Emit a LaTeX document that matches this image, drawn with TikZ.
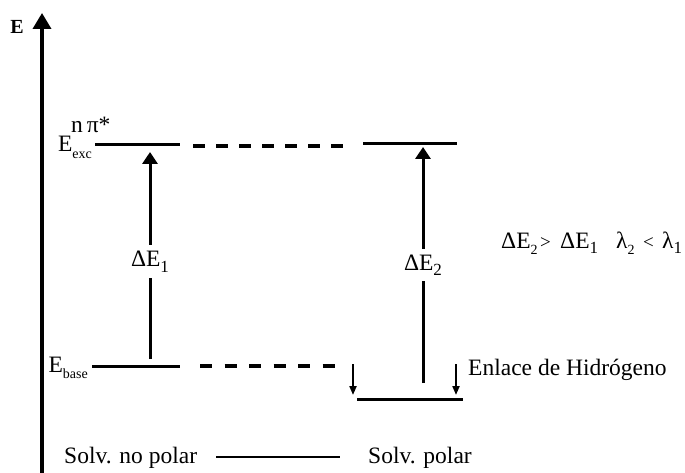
\documentclass[tikz,border=0pt]{standalone}
\usepackage{fontspec}
\setmainfont{Liberation Serif}
\usetikzlibrary{arrows.meta}
\newcommand\lsub[1]{\raisebox{-0.28em}{\fontsize{14}{14}\selectfont #1}}
\newcommand\nsub[1]{\raisebox{-0.22em}{\fontsize{17}{17}\selectfont #1}}
\begin{document}
\begin{tikzpicture}[x=1pt,y=-1pt,
  lvl/.style={line width=3pt},
  dshU/.style={line width=3.2pt, dash pattern=on 12pt off 11pt},
  dshL/.style={line width=3.2pt, dash pattern=on 12pt off 12.5pt},
  txt/.style={font=\fontsize{23.5}{26}\selectfont, inner sep=0pt},
  bigarrow/.style={line width=3pt,-{Triangle[width=15pt,length=12pt]}},
  smallarrow/.style={line width=2pt,-{Triangle[width=7pt,length=9pt]}},
  thin/.style={line width=1.2pt}]
\useasboundingbox (0,0) rectangle (685,473);
% axis
\coordinate (ax0) at (42,474);
\coordinate (ax1) at (42,13);
\draw[line width=3.5pt,-{Triangle[width=18pt,length=16pt]}] (ax0) -- (ax1);
\node[font=\bfseries\fontsize{20}{20}\selectfont, inner sep=0pt] (Elab) at (17,27) {E};
% levels
\coordinate (exL) at (95,145);  \coordinate (exR) at (180,145);
\coordinate (duL) at (193,146); \coordinate (duR) at (345,146);
\coordinate (prL) at (363,144); \coordinate (prR) at (457,144);
\coordinate (baL) at (92,366);  \coordinate (baR) at (180,366);
\coordinate (dlL) at (200,366); \coordinate (dlR) at (337,366);
\coordinate (pbL) at (357,399); \coordinate (pbR) at (463,399);
\draw[lvl] (exL) -- (exR);
\draw[dshU] (duL) -- (duR);
\draw[lvl] (prL) -- (prR);
\draw[lvl] (baL) -- (baR);
\draw[dshL] (dlL) -- (dlR);
\draw[lvl] (pbL) -- (pbR);
% transition arrows
\coordinate (a1b) at (150,359); \coordinate (a1t) at (150,152);
\coordinate (a2b) at (423,383); \coordinate (a2t) at (423,147);
\draw[bigarrow] (a1b) -- node[txt, fill=white, inner ysep=6pt, pos=0.47] (dE1) {ΔE\nsub{1}} (a1t);
\draw[bigarrow] (a2b) -- node[txt, fill=white, inner ysep=6pt, pos=0.5] (dE2) {ΔE\nsub{2}} (a2t);
% hydrogen bond arrows
\coordinate (h1t) at (353,364); \coordinate (h1b) at (353,395);
\coordinate (h2t) at (456,364); \coordinate (h2b) at (456,395);
\draw[smallarrow] (h1t) -- (h1b);
\draw[smallarrow] (h2t) -- (h2b);
% labels
\node[txt, anchor=base east] (Eexc) at (92,152) {E\lsub{exc}};
\node[txt, anchor=base west] (npi) at (71,133) {n\,π*};
\node[txt, anchor=base east] (Ebase) at (88,372) {E\lsub{base}};
\node[txt, anchor=base west] (hb) at (468,375) {Enlace de Hidrógeno};
\node[txt, anchor=base west] (snp) at (64,463) {Solv. no polar};
\node[txt, anchor=base west] (sp) at (368,463) {Solv. polar};
\coordinate (slL) at (216,457); \coordinate (slR) at (340,457);
\draw[thin] (slL) -- (slR);
% relation text
\node[txt, anchor=base west] (r1) at (501,248) {ΔE\lsub{2}};
\node[txt, anchor=base west, font=\fontsize{19}{19}\selectfont] (r2) at (540,248) {>};
\node[txt, anchor=base west] (r3) at (560,248) {ΔE\nsub{1}};
\node[txt, anchor=base west] (r4) at (616,248) {λ\lsub{2}};
\node[txt, anchor=base west, font=\fontsize{19}{19}\selectfont] (r5) at (643,248) {<};
\node[txt, anchor=base west] (r6) at (662,248) {λ\nsub{1}};
\end{tikzpicture}
\end{document}
